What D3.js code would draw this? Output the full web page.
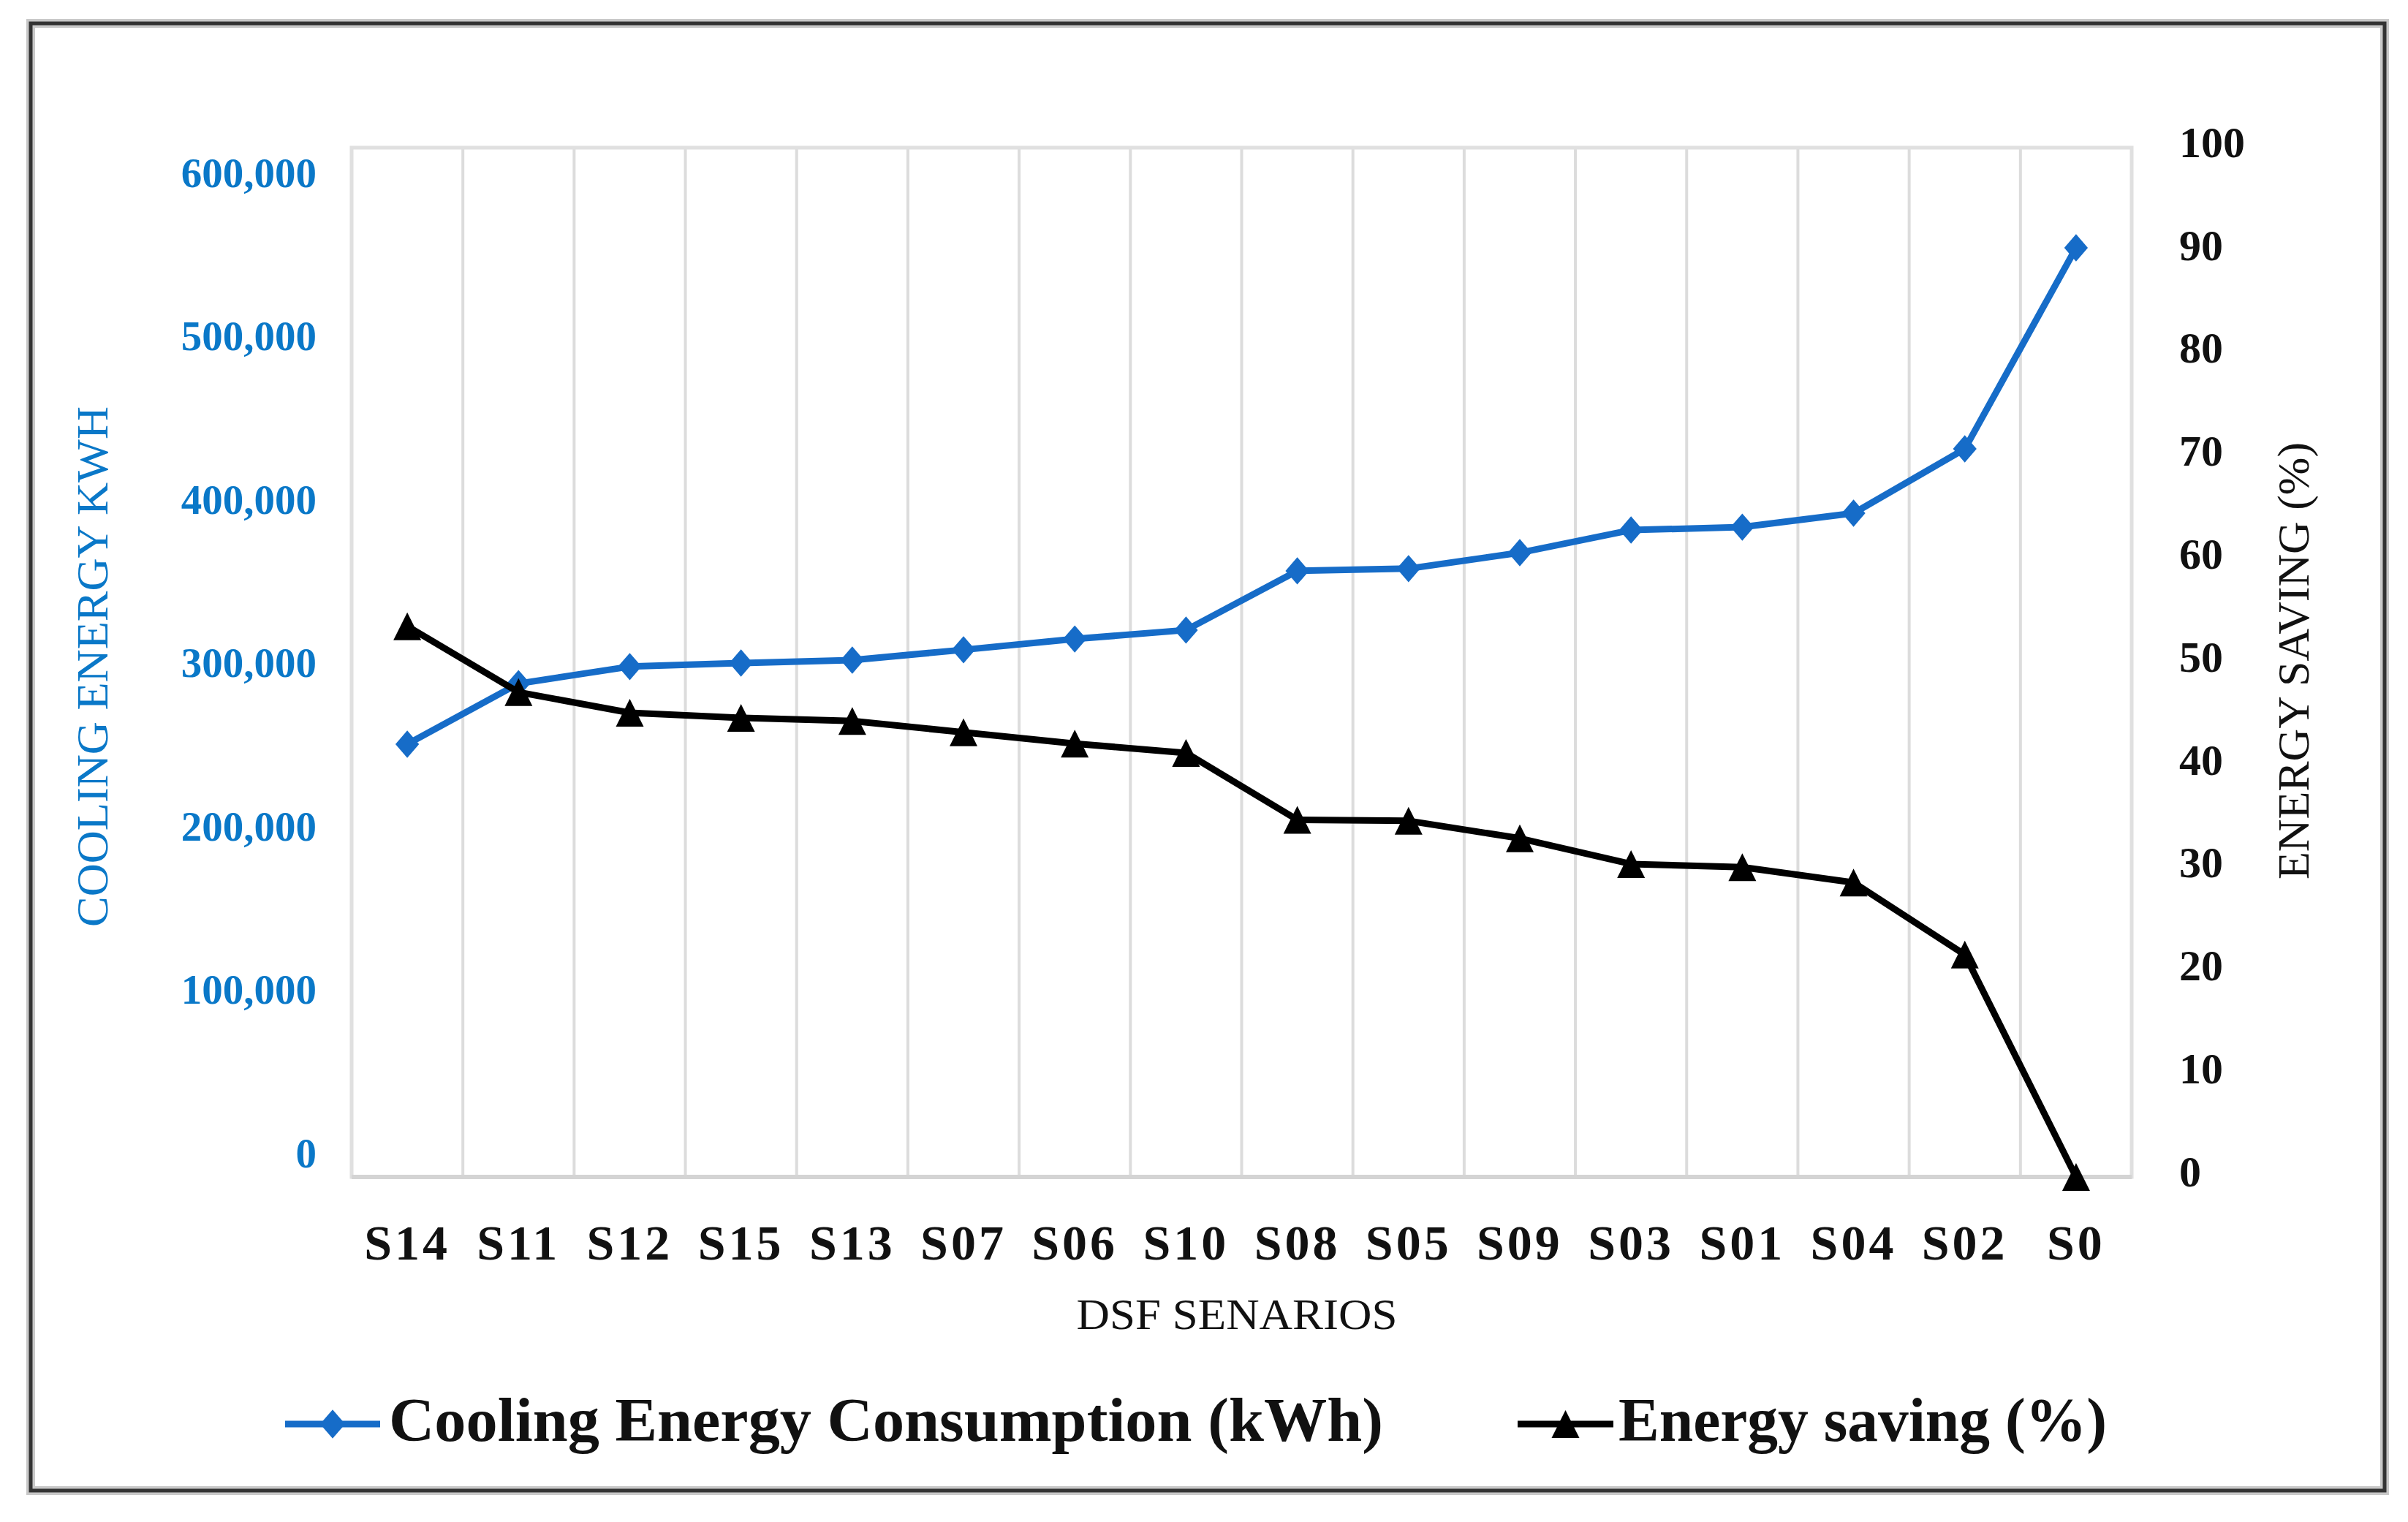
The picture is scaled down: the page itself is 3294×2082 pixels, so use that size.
<!DOCTYPE html>
<html>
<head>
<meta charset="utf-8">
<script src="https://cdn.jsdelivr.net/npm/d3@7"></script>
<style>
  body { margin: 0; background: #fff; }
  text { font-family: "Liberation Serif", "Times New Roman", serif; }
</style>
</head>
<body>
<div id="chart"></div>
<script>
// data
const scenarios = ["S14", "S11", "S12", "S15", "S13", "S07", "S06", "S10",
                   "S08", "S05", "S09", "S03", "S01", "S04", "S02", "S0"];
const coolingKwh = [252300, 287600, 297500, 299600, 301300, 307300, 313600, 318800,
                    353300, 354600, 363900, 377100, 378800, 386900, 424400, 541600];
const savingPct = [53.5, 47.1, 45.1, 44.6, 44.3, 43.2, 42.1, 41.2,
                   34.7, 34.6, 32.9, 30.4, 30.1, 28.6, 21.6, 0];
const leftTicks = [0, 100000, 200000, 300000, 400000, 500000, 600000];
const rightTicks = [0, 10, 20, 30, 40, 50, 60, 70, 80, 90, 100];

const W = 3294, H = 2082;
const plot = { left: 481, top: 202, right: 2916, bottom: 1610 };
const blue = "#166cc8", blueText = "#0a78c8";

const svg = d3.select("#chart")
    .append("svg")
    .attr("width", W)
    .attr("height", H);

// outer frame
svg.append("rect")
    .attr("x", 42).attr("y", 32).attr("width", 3220).attr("height", 2007)
    .attr("fill", "none").attr("stroke", "#c8c8c8").attr("stroke-width", 12);
svg.append("rect")
    .attr("x", 42).attr("y", 32).attr("width", 3220).attr("height", 2007)
    .attr("fill", "none").attr("stroke", "#333").attr("stroke-width", 5);

const x = d3.scaleBand()
    .domain(scenarios)
    .range([plot.left, plot.right]);

const yLeft = d3.scaleLinear().domain([0, 600000]).range([plot.bottom, plot.top]);
const yRight = d3.scaleLinear().domain([0, 100]).range([plot.bottom, plot.top]);
// the left labels sit a little inside the plot edges in the original
const yLeftLabels = d3.scaleLinear().domain([0, 600000]).range([1578, 237]);

// vertical gridlines between categories
svg.append("g")
    .selectAll("line")
    .data(scenarios.slice(1))
    .enter().append("line")
    .attr("x1", d => x(d)).attr("x2", d => x(d))
    .attr("y1", plot.top).attr("y2", plot.bottom)
    .attr("stroke", "#dcdcdc").attr("stroke-width", 4);

// plot frame
svg.append("rect")
    .attr("x", plot.left).attr("y", plot.top)
    .attr("width", plot.right - plot.left).attr("height", plot.bottom - plot.top)
    .attr("fill", "none").attr("stroke", "#e0e0e0").attr("stroke-width", 5);
svg.append("line")
    .attr("x1", plot.left).attr("x2", plot.right)
    .attr("y1", plot.bottom).attr("y2", plot.bottom)
    .attr("stroke", "#d4d4d4").attr("stroke-width", 6);

// left axis
const axL = svg.append("g")
    .attr("transform", `translate(${433},0)`)
    .call(d3.axisLeft(yLeftLabels).tickValues(leftTicks).tickSize(0).tickPadding(0)
        .tickFormat(d3.format(",")));
axL.select(".domain").remove();
axL.selectAll("text")
    .attr("fill", blueText)
    .style("font-size", "57px")
    .style("font-weight", "bold")
    .style("font-family", "'Liberation Serif', serif");

// right axis
const axR = svg.append("g")
    .attr("transform", `translate(${2981},-7)`)
    .call(d3.axisRight(yRight).tickValues(rightTicks).tickSize(0).tickPadding(0));
axR.select(".domain").remove();
axR.selectAll("text")
    .attr("fill", "#111")
    .style("font-size", "60px")
    .style("font-weight", "bold")
    .style("font-family", "'Liberation Serif', serif");

// x labels
svg.append("g")
    .selectAll("text")
    .data(scenarios)
    .enter().append("text")
    .attr("x", d => x(d) + x.bandwidth() / 2)
    .attr("y", 1723)
    .attr("text-anchor", "middle")
    .attr("font-size", 68)
    .attr("font-weight", "bold")
    .attr("letter-spacing", 4)
    .attr("fill", "#111")
    .text(d => d);

// axis titles
svg.append("text")
    .attr("x", 1692).attr("y", 1818)
    .attr("text-anchor", "middle")
    .attr("font-size", 60)
    .attr("textLength", 439).attr("lengthAdjust", "spacingAndGlyphs")
    .attr("fill", "#111")
    .text("DSF SENARIOS");

svg.append("text")
    .attr("transform", "translate(147,912) rotate(-90)")
    .attr("text-anchor", "middle")
    .attr("font-size", 62)
    .attr("textLength", 712).attr("lengthAdjust", "spacingAndGlyphs")
    .attr("fill", blueText)
    .text("COOLING ENERGY KWH");

svg.append("text")
    .attr("transform", "translate(3158,904) rotate(-90)")
    .attr("text-anchor", "middle")
    .attr("font-size", 62)
    .attr("textLength", 598).attr("lengthAdjust", "spacingAndGlyphs")
    .attr("fill", "#111")
    .text("ENERGY SAVING (%)");

// marker shapes
const diamond = {
    draw(ctx, size) {
        const r = Math.sqrt(size) / 2;
        ctx.moveTo(0, -r * 1.1);
        ctx.lineTo(r * 0.95, 0);
        ctx.lineTo(0, r * 1.1);
        ctx.lineTo(-r * 0.95, 0);
        ctx.closePath();
    }
};
const triangle = {
    draw(ctx, size) {
        const r = Math.sqrt(size) / 2;
        ctx.moveTo(0, -r);
        ctx.lineTo(r, r);
        ctx.lineTo(-r, r);
        ctx.closePath();
    }
};

const cx = (d, i) => x(scenarios[i]) + x.bandwidth() / 2;

// cooling energy line
svg.append("path")
    .datum(coolingKwh)
    .attr("fill", "none").attr("stroke", blue).attr("stroke-width", 9)
    .attr("stroke-linejoin", "round")
    .attr("d", d3.line().x(cx).y(d => yLeft(d)));

svg.append("g")
    .selectAll("path")
    .data(coolingKwh)
    .enter().append("path")
    .attr("transform", (d, i) => `translate(${cx(d, i)},${yLeft(d)})`)
    .attr("d", d3.symbol().type(diamond).size(1156))
    .attr("fill", blue);

// energy saving line
svg.append("path")
    .datum(savingPct)
    .attr("fill", "none").attr("stroke", "#000").attr("stroke-width", 9)
    .attr("stroke-linejoin", "round")
    .attr("d", d3.line().x(cx).y(d => yRight(d)));

svg.append("g")
    .selectAll("path")
    .data(savingPct)
    .enter().append("path")
    .attr("transform", (d, i) => `translate(${cx(d, i)},${yRight(d)})`)
    .attr("d", d3.symbol().type(triangle).size(1444))
    .attr("fill", "#000");

// legend
const legendItems = [
    { name: "Cooling Energy Consumption (kWh)", color: blue, shape: diamond, size: 1300,
      x0: 390, x1: 520, tx: 532, tw: 1360 },
    { name: "Energy saving (%)", color: "#000", shape: triangle, size: 1444,
      x0: 2076, x1: 2207, tx: 2214, tw: 668 }
];
const lg = svg.append("g").selectAll("g")
    .data(legendItems)
    .enter().append("g");
lg.append("line")
    .attr("x1", d => d.x0).attr("x2", d => d.x1)
    .attr("y1", 1948).attr("y2", 1948)
    .attr("stroke", d => d.color).attr("stroke-width", 9);
lg.append("path")
    .attr("transform", d => `translate(${(d.x0 + d.x1) / 2},1948)`)
    .attr("d", d => d3.symbol().type(d.shape).size(d.size)())
    .attr("fill", d => d.color);
lg.append("text")
    .attr("x", d => d.tx).attr("y", 1971)
    .attr("font-size", 84)
    .attr("font-weight", "bold")
    .attr("textLength", d => d.tw).attr("lengthAdjust", "spacingAndGlyphs")
    .attr("fill", "#111")
    .text(d => d.name);
</script>
</body>
</html>
